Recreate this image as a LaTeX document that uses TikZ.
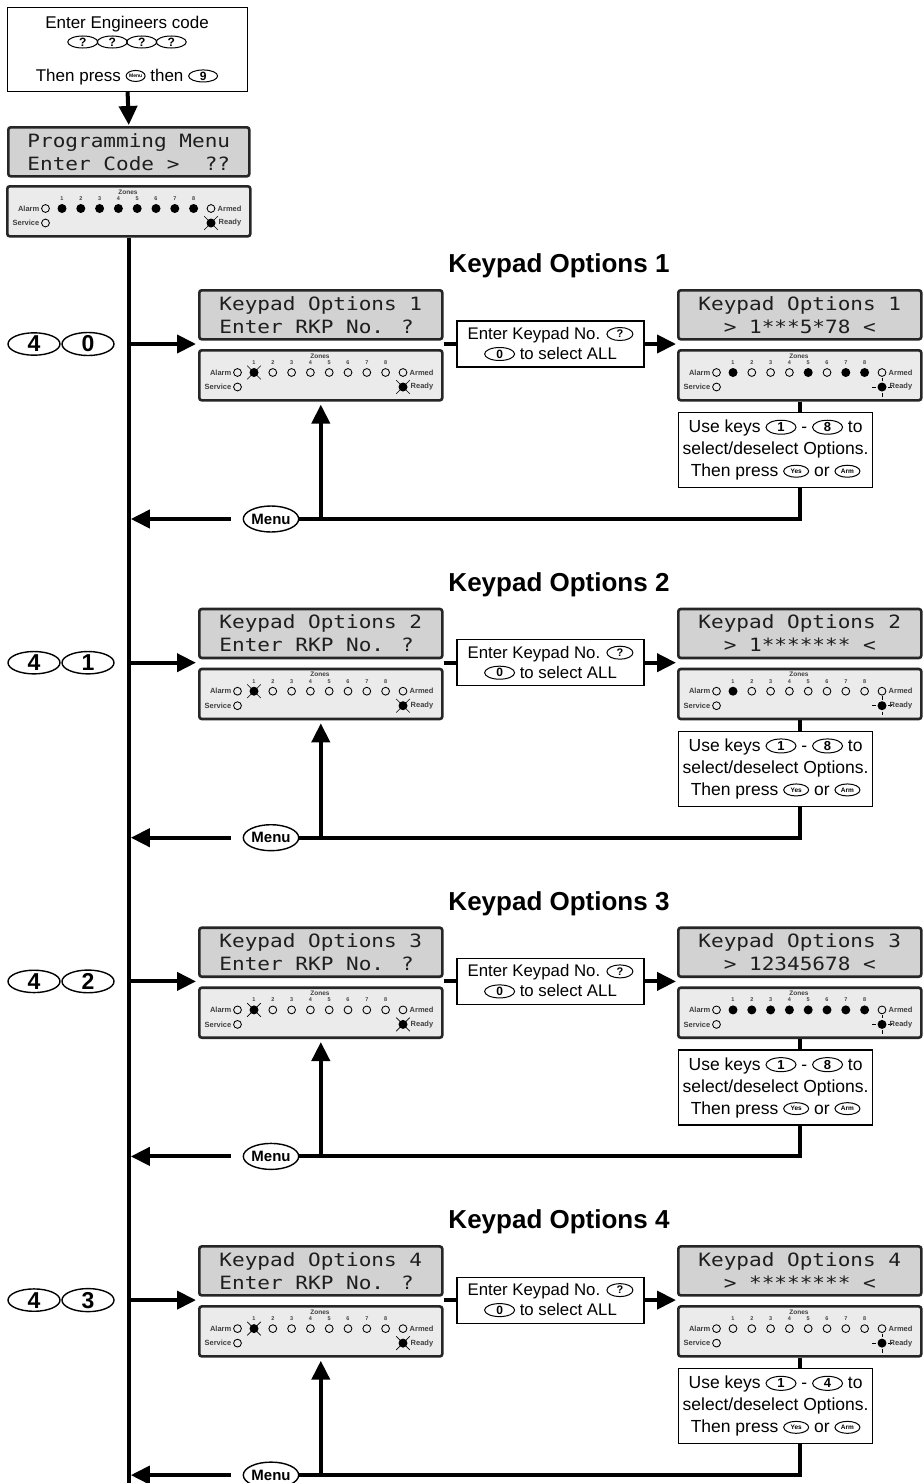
\documentclass[tikz,border=0pt]{standalone}
\usepackage{fontspec}
\setmainfont{Liberation Sans}
\newfontfamily\lcdfont[FakeStretch=1.15]{DejaVu Sans Mono}
\usetikzlibrary{shapes.geometric,arrows.meta,calc}

\definecolor{lcdgray}{HTML}{D2D2D2}
\definecolor{panelgray}{HTML}{EBEBEB}
\definecolor{labgray}{HTML}{404040}
\definecolor{lcdtext}{HTML}{1E1E1E}

\tikzset{
 lcdbox/.style={draw=black!85,line width=2.6pt,fill=lcdgray,rounded corners=2.5pt,minimum width=243pt,minimum height=49pt,inner sep=0pt,font=\lcdfont\fontsize{18.3}{23}\selectfont,text=lcdtext,align=left,anchor=north west},
 panelbox/.style={draw=black!85,line width=2.6pt,fill=panelgray,rounded corners=2.5pt,minimum width=243pt,minimum height=50pt,inner sep=0pt,anchor=north west},
 txtbox/.style={draw,line width=1.2pt,inner sep=0pt,align=center},
 bigkey/.style={draw,ellipse,line width=1.4pt,minimum width=52pt,minimum height=22pt,inner sep=0pt,font=\bfseries\fontsize{23}{23}\selectfont},
 menukey/.style={draw,ellipse,line width=1.4pt,minimum width=52pt,minimum height=26pt,inner sep=0pt,font=\bfseries\fontsize{15}{15}\selectfont},
 thk/.style={line width=4pt},
 arr/.style={line width=4pt,-{Triangle[length=19pt,width=18pt]}},
 ttl/.style={font=\bfseries\fontsize{26}{26}\selectfont,inner sep=0pt},
 zlab/.style={font=\bfseries\fontsize{6.5}{6.5}\selectfont,text=labgray,inner sep=0pt},
 znum/.style={font=\bfseries\fontsize{5.5}{5.5}\selectfont,text=labgray,inner sep=0pt},
 plab/.style={font=\bfseries\fontsize{7.5}{7.5}\selectfont,text=labgray,inner sep=0pt},
}

% inline key: width, height, font size, text
\newcommand\ik[4]{\raisebox{0.32em}{\tikz[baseline=(ikn.center)]\node[draw,line width=1pt,ellipse,inner sep=0pt,minimum width=#1pt,minimum height=#2pt,font=\bfseries\fontsize{#3}{#3}\selectfont](ikn){#4};}}

\newcommand\ledoff[2]{\draw[line width=0.85pt] (#1,#2) circle[radius=3.9];}
\newcommand\ledon[2]{\fill (#1,#2) circle[radius=4.5];}
\newcommand\ledflash[2]{\fill (#1,#2) circle[radius=4.5];\draw[line width=0.6pt] ({#1-6.8},{#2-6.8}) -- ({#1+6.8},{#2+6.8}) ({#1-6.8},{#2+6.8}) -- ({#1+6.8},{#2-6.8});}
\newcommand\ledrays[2]{\fill (#1,#2) circle[radius=4.5];\draw[line width=0.8pt] ({#1-10},#2) -- ({#1-6},#2) ({#1+6},#2) -- ({#1+10},#2) (#1,{#2-9.5}) -- (#1,{#2-6}) (#1,{#2+6}) -- (#1,{#2+9.5});}
\newcommand\led[3]{\ifcase#1\relax\ledoff{#2}{#3}\or\ledon{#2}{#3}\or\ledflash{#2}{#3}\or\ledrays{#2}{#3}\fi}

% panel: name, x, y, zone states, ready state
\newcommand\kpanel[5]{%
 \node[panelbox] (#1) at (#2,#3) {};
 \begin{scope}[shift={(#2,#3)}]
  \node[zlab] (#1z) at (122,7) {Zones};
  \foreach \s [count=\k] in {#4}{%
   \pgfmathsetmacro\zx{56+18.8*(\k-1)}%
   \node[znum] (#1n\k) at (\zx,13.6) {\k};
   \led{\s}{\zx}{23.5}%
  }
  \node[plab,anchor=east] (#1a) at (33.5,23.5) {Alarm};
  \led{0}{39.5}{23.5}
  \led{0}{205}{23.5}
  \node[plab,anchor=west] (#1b) at (211.5,23.5) {Armed};
  \node[plab,anchor=east] (#1c) at (33.5,38) {Service};
  \led{0}{39.5}{38}
  \led{#5}{205}{38}
  \node[plab,anchor=west] (#1d) at (212.5,38) {Ready};
 \end{scope}
}

% section: idx, dy, second digit, right zone states, right line 2, max key
\newcommand\kpsec[6]{%
 \begin{scope}[shift={(0,#2)}]
  \node[ttl] (ttl#1) at (559,266) {Keypad Options #1};
  \node[bigkey] (ka#1) at (34,344) {4};
  \node[bigkey] (kb#1) at (88,344) {#3};
  \node[lcdbox] (ll#1) at (198,289) {Keypad Options #1\\Enter RKP No. ?};
  \kpanel{lp#1}{198}{349}{2,0,0,0,0,0,0,0}{2}
  \node[txtbox,minimum width=187pt,minimum height=46pt,font=\fontsize{16.8}{20}\selectfont] (ek#1) at (550.5,344) {Enter Keypad No. \ik{26}{13}{11}{?}\\\ik{30}{13}{12}{0} to select ALL};
  \node[lcdbox] (rl#1) at (677,289) {Keypad Options #1\\\phantom{xx}#5};
  \kpanel{rp#1}{677}{349}{#4}{3}
  \node[txtbox,minimum width=194pt,minimum height=75pt,anchor=north west,font=\fontsize{17.5}{22}\selectfont] (uk#1) at (678,412) {Use keys \ik{30}{14}{13}{1} - \ik{30}{14}{13}{#6} to\\select/deselect Options.\\Then press \ik{25}{12}{6.5}{Yes} or \ik{25}{12}{6.5}{Arm}};
  \node[menukey] (mk#1) at (271,519) {Menu};
  \draw[arr,shorten >=2pt] (mainx |- ka#1) -- (ll#1.south west |- ka#1);
  \draw[thk] (ll#1.south east |- ek#1.west) -- (ek#1.west);
  \draw[arr,shorten >=1pt] (ek#1.east) -- (rl#1.south west |- ek#1.east);
  \draw[thk] (rp#1.south) -- (rp#1.south |- uk#1.north);
  \draw[thk] (rp#1.south |- uk#1.south) -- (rp#1.south |- mk#1.east) -- (mk#1.east);
  \coordinate (mg#1) at ($(mk#1.west)+(-12,0)$);
  \draw[arr,shorten >=2pt] (mg#1) -- (mainx |- mg#1);
  \draw[arr,shorten >=3pt] (lp#1.south |- mk#1.east) -- (lp#1.south);
 \end{scope}
}

\begin{document}
\begin{tikzpicture}[x=1pt,y=-1pt]
\useasboundingbox (0,0) rectangle (922,1483);
\fill[white] (0,0) rectangle (922,1483);

\node[txtbox,minimum width=240pt,minimum height=84pt,anchor=north west] (tb) at (7,7) {};
\node[font=\fontsize{17}{17}\selectfont,inner sep=0pt] (tb1) at (127,24) {Enter Engineers code};
\node[inner sep=0pt,font=\fontsize{17}{17}\selectfont] (tb2) at (127,42) {\ik{30}{12}{12}{?}\hspace{-1.5pt}\ik{30}{12}{12}{?}\hspace{-1.5pt}\ik{30}{12}{12}{?}\hspace{-1.5pt}\ik{30}{12}{12}{?}};
\node[font=\fontsize{17}{17}\selectfont,inner sep=0pt] (tb3) at (127,77) {Then press \ik{19}{11}{5}{Menu} then \ik{29}{12}{12}{9}};

\node[lcdbox,minimum width=241pt] (l0) at (7,126) {Programming Menu\\Enter Code >~~??};
\kpanel{p0}{6}{185}{1,1,1,1,1,1,1,1}{2}
\draw[arr,shorten >=1pt] (tb.south) -- (l0.north);

\coordinate (mainx) at (p0.south);
\coordinate (mainend) at (128,1483);
\draw[thk] (p0.south) -- (mainx |- mainend);

\kpsec{1}{0}{0}{1,0,0,0,1,0,1,1}{> 1***5*78 <}{8}
\kpsec{2}{318.7}{1}{1,0,0,0,0,0,0,0}{> 1******* <}{8}
\kpsec{3}{637.4}{2}{1,1,1,1,1,1,1,1}{> 12345678 <}{8}
\kpsec{4}{956.1}{3}{0,0,0,0,0,0,0,0}{> ******** <}{4}
\end{tikzpicture}
\end{document}
